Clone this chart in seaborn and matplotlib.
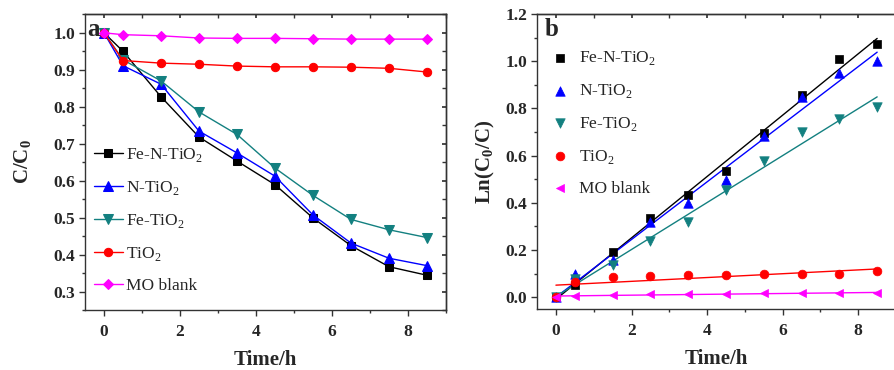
import numpy as np
import pandas as pd
import matplotlib
matplotlib.use("Agg")
import matplotlib.pyplot as plt
import seaborn as sns

# Sampling times (h)
time_h = [0, 0.5, 1.5, 2.5, 3.5, 4.5, 5.5, 6.5, 7.5, 8.5]

# Panel a: C/C0
cc0_fen = [1.0, 0.950, 0.827, 0.718, 0.653, 0.589, 0.499, 0.424, 0.367, 0.344]
cc0_n = [1.0, 0.911, 0.861, 0.734, 0.675, 0.612, 0.507, 0.431, 0.390, 0.370]
cc0_fe = [1.0, 0.927, 0.870, 0.786, 0.725, 0.634, 0.560, 0.495, 0.467, 0.446]
cc0_tio2 = [1.0, 0.925, 0.918, 0.915, 0.910, 0.908, 0.908, 0.907, 0.904, 0.894]
cc0_blank = [1.0, 0.995, 0.992, 0.986, 0.985, 0.985, 0.984, 0.983, 0.983, 0.983]

# Panel b: Ln(C0/C)
ln_fen = [0.0, 0.051, 0.193, 0.335, 0.431, 0.533, 0.697, 0.857, 1.009, 1.072]
ln_n = [0.0, 0.098, 0.157, 0.318, 0.399, 0.498, 0.682, 0.847, 0.948, 1.001]
ln_fe = [0.0, 0.077, 0.137, 0.237, 0.318, 0.454, 0.576, 0.698, 0.757, 0.806]
ln_tio2 = [0.0, 0.065, 0.086, 0.089, 0.094, 0.095, 0.097, 0.098, 0.100, 0.113]
ln_blank = [0.0, 0.005, 0.008, 0.013, 0.014, 0.015, 0.016, 0.017, 0.017, 0.017]

labels = ["Fe-N-TiO$_\\mathregular{2}$", "N-TiO$_\\mathregular{2}$",
          "Fe-TiO$_\\mathregular{2}$", "TiO$_\\mathregular{2}$", "MO blank"]
colors = ["#000000", "#0000ff", "#138080", "#ff0000", "#ff00ff"]
markers = ["s", "^", "v", "o", "D"]
markers_b = ["s", "^", "v", "o", "<"]
msizes = [5.5, 6.5, 6.5, 6, 5.5]

sns.set_theme(style="ticks")
plt.rcParams["font.family"] = ["Liberation Serif", "DejaVu Serif"]
plt.rcParams["mathtext.fontset"] = "custom"
plt.rcParams["mathtext.rm"] = "Liberation Serif"
plt.rcParams["axes.linewidth"] = 1.0
plt.rcParams["axes.edgecolor"] = "#333333"

fig = plt.figure(figsize=(8.94, 3.70), dpi=100)
ax1 = fig.add_axes([0.0951, 0.1622, 0.4038, 0.8])
ax2 = fig.add_axes([0.6007, 0.1649, 0.4016, 0.7973])


def style_axes(ax, xmajor, ymajor, yminor, right_ticks=True):
    ax.set_xticks(xmajor)
    ax.set_yticks(ymajor)
    ax.set_xticks(np.arange(-0.0, 9.01, 1.0), minor=True)
    ax.set_yticks(yminor, minor=True)
    ax.tick_params(which="major", direction="out", length=4, width=1,
                   labelsize=12.5, pad=3, color="#333333")
    ax.tick_params(axis="x", which="major", pad=6)
    ax.tick_params(which="minor", direction="out", length=2.5, width=1, color="#333333")
    for lab in ax.get_xticklabels() + ax.get_yticklabels():
        lab.set_fontweight("bold")
    top = ax.secondary_xaxis("top")
    top.set_xticks(xmajor)
    top.set_xticks(np.arange(0, 9.01, 1.0), minor=True)
    top.tick_params(which="both", direction="in", length=3, labeltop=False, color="#333333")
    if right_ticks:
        right = ax.secondary_yaxis("right")
        right.set_yticks(ymajor)
        right.set_yticks(yminor, minor=True)
        right.tick_params(which="both", direction="in", length=3, labelright=False,
                          color="#333333")


# Panel a
for vals, lab, col, mk, ms in zip([cc0_fen, cc0_n, cc0_fe, cc0_tio2, cc0_blank],
                                  labels, colors, markers, msizes):
    sns.lineplot(x=time_h, y=vals, ax=ax1, color=col, marker=mk, markersize=ms,
                 markeredgecolor=col, linewidth=1.0, label=lab)
ax1.set_xlim(-0.5, 9.0)
ax1.set_ylim(0.25, 1.051)
style_axes(ax1, [0, 2, 4, 6, 8], np.round(np.arange(0.3, 1.01, 0.1), 2),
           np.arange(0.25, 1.051, 0.05))
ax1.set_xlabel("Time/h", fontsize=15, fontweight="bold", labelpad=7.5)
ax1.set_ylabel("C/C$_\\mathregular{0}$", fontsize=15, fontweight="bold", labelpad=14)
ax1.text(0.005, 0.985, "a", transform=ax1.transAxes, fontsize=18, fontweight="bold",
         va="top", ha="left")
ax1.legend(loc="lower left", frameon=False, fontsize=12.5, handlelength=1.7,
           handletextpad=0.15, labelspacing=0.85, borderaxespad=0.2,
           bbox_to_anchor=(-0.005, 0.02))

# Panel b
for vals, lab, col, mk, ms in zip([ln_fen, ln_n, ln_fe, ln_tio2, ln_blank],
                                  labels, colors, markers_b, msizes):
    sns.scatterplot(x=time_h, y=vals, ax=ax2, color=col, marker=mk, s=ms ** 2 * 1.1,
                    edgecolor=col, linewidth=0.5, label=lab, zorder=3)
for vals, col in zip([ln_fen, ln_n, ln_fe, ln_tio2, ln_blank], colors):
    sns.regplot(x=time_h, y=vals, ax=ax2, scatter=False, ci=None, color=col,
                line_kws={"linewidth": 1.0})
ax2.set_xlim(-0.5, 9.0)
ax2.set_ylim(-0.05, 1.2)
style_axes(ax2, [0, 2, 4, 6, 8], np.round(np.arange(0.0, 1.21, 0.2), 1),
           np.arange(0.0, 1.21, 0.1), right_ticks=False)
ax2.spines["right"].set_visible(False)
ax2.set_xlabel("Time/h", fontsize=15, fontweight="bold", labelpad=7.5)
ax2.set_ylabel("Ln(C$_\\mathregular{0}$/C)", fontsize=15, fontweight="bold", labelpad=6)
ax2.text(0.02, 0.985, "b", transform=ax2.transAxes, fontsize=18, fontweight="bold",
         va="top", ha="left")
ax2.legend(loc="upper left", frameon=False, fontsize=12.5, handlelength=1.2,
           handletextpad=0.5, labelspacing=0.85, borderaxespad=0.2,
           bbox_to_anchor=(0.005, 0.915))

fig.savefig("out.png", dpi=100)
